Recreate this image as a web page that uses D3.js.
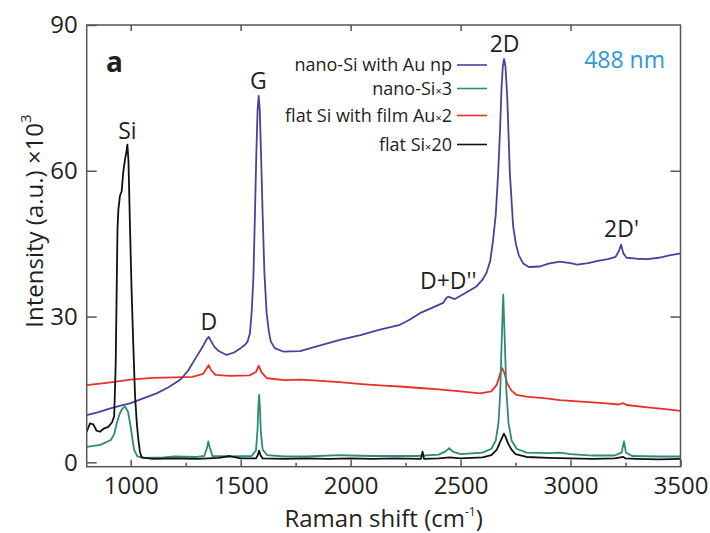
<!DOCTYPE html>
<html>
<head>
<meta charset="utf-8">
<script src="https://cdn.jsdelivr.net/npm/d3@7"></script>
<style>
  body { margin: 0; background: #fff; }
  svg text { font-family: "Open Sans", "Noto Sans", sans-serif; fill: #231f20; }
  .axis path { display: none; }
  .axis line { stroke: #555; stroke-width: 1.5; }
  .axis text { font-size: 24px; }
</style>
</head>
<body>
<div id="chart"></div>
<script>
// Raman spectra, 488 nm excitation (intensity in 10^3 a.u.)

const xTicks = [1000, 1500, 2000, 2500, 3000, 3500];
const xMinorTicks = [1250, 1750, 2250, 2750, 3250];
const yTicks = [0, 30, 60, 90];

// nano-Si with Au np
const nanoSiAu = [
    [800, 9.7], [850, 10.3], [900, 11.0], [950, 11.6], [1000, 12.2], [1060, 13.2], [1118, 14.2],
    [1170, 15.4], [1225, 17.0], [1260, 18.8], [1300, 21.8], [1330, 24.0], [1345, 25.3], [1355, 25.8],
    [1365, 25.0], [1380, 23.8], [1400, 22.9], [1436, 22.1], [1470, 22.6], [1500, 23.5], [1520, 24.2],
    [1532, 24.9], [1542, 26.5], [1550, 30.8], [1558, 38], [1565, 51], [1571, 63], [1577, 72.5],
    [1582, 75.4], [1587, 72.5], [1593, 63], [1600, 51], [1608, 39], [1618, 30.8], [1628, 27],
    [1637, 24.9], [1655, 23.5], [1693, 22.8], [1770, 22.9], [1850, 23.9], [1951, 25.2], [2045, 26.2],
    [2133, 27.3], [2224, 28.3], [2270, 29.4], [2315, 30.7], [2370, 31.8], [2421, 32.8], [2435, 33.8],
    [2444, 34.1], [2474, 33.6], [2520, 34.8], [2572, 36.2], [2600, 37.6], [2618, 39.0], [2635, 41.5],
    [2648, 45.8], [2660, 51], [2671, 59.6], [2680, 69], [2686, 76.8], [2692, 81.5], [2698, 83.0],
    [2704, 81.5], [2712, 75.4], [2724, 59.6], [2739, 48.6], [2752, 44.8], [2765, 42.6], [2785, 40.9],
    [2810, 40.2], [2860, 40.3], [2900, 40.9], [2951, 41.3], [3000, 41.0], [3030, 40.7], [3080, 41.0],
    [3130, 41.5], [3170, 41.8], [3205, 42.3], [3220, 43.5], [3230, 44.8], [3240, 43.0], [3255, 42.1],
    [3300, 41.9], [3350, 41.8], [3400, 42.1], [3450, 42.6], [3500, 43.0]
];

// nano-Si x3
const nanoSi = [
    [800, 3.2], [862, 3.6], [910, 4.6], [925, 5.8], [937, 8.1], [950, 10.0], [960, 10.9], [974, 11.5],
    [988, 10.4], [1000, 7.3], [1008, 4.8], [1016, 2.5], [1031, 1.2], [1060, 0.9], [1150, 1.0],
    [1200, 1.2], [1300, 1.1], [1335, 1.3], [1347, 3.0], [1353, 4.3], [1360, 3.0], [1372, 1.3],
    [1450, 1.2], [1550, 1.3], [1570, 2.5], [1577, 7], [1581, 12], [1584, 13.9], [1588, 11],
    [1592, 6], [1600, 2.6], [1620, 1.5], [1700, 1.2], [1800, 1.2], [1950, 1.5], [2000, 1.4],
    [2100, 1.3], [2200, 1.3], [2300, 1.3], [2400, 1.6], [2430, 2.2], [2448, 2.9], [2465, 2.2],
    [2500, 1.7], [2600, 2.0], [2640, 2.8], [2660, 4.5], [2672, 8], [2680, 14], [2687, 25],
    [2694, 34.5], [2701, 25], [2708, 15], [2718, 8], [2732, 4.5], [2755, 2.8], [2800, 2.0],
    [2900, 1.9], [2950, 2.0], [3000, 1.7], [3100, 1.4], [3200, 1.4], [3232, 2.0], [3243, 4.3],
    [3252, 2.0], [3280, 1.3], [3400, 1.2], [3500, 1.2]
];

// flat Si with film Au x2
const flatSiAu = [
    [800, 15.9], [900, 16.4], [1000, 17.0], [1100, 17.4], [1200, 17.5], [1280, 17.6], [1330, 18.2],
    [1345, 19.3], [1355, 20.0], [1365, 19.0], [1385, 18.0], [1450, 17.8], [1540, 17.9], [1570, 18.6],
    [1582, 19.9], [1595, 18.5], [1620, 17.3], [1700, 16.9], [1770, 17.0], [1850, 16.8], [1950, 16.5],
    [2050, 16.1], [2150, 15.8], [2224, 15.6], [2315, 15.3], [2400, 15.0], [2500, 14.6], [2588, 14.2],
    [2640, 14.6], [2665, 16.0], [2680, 18.2], [2689, 19.4], [2698, 18.5], [2712, 16.3], [2730, 14.8],
    [2754, 13.9], [2800, 13.5], [2900, 13.1], [2951, 12.8], [3050, 12.5], [3150, 12.2], [3220, 11.9],
    [3239, 12.2], [3255, 11.8], [3350, 11.3], [3420, 11.0], [3500, 10.6]
];

// flat Si x20
const flatSi = [
    [800, 6.3], [815, 8.0], [830, 7.8], [845, 6.5], [860, 6.3], [880, 7.0], [898, 7.3], [915, 8.2],
    [925, 9.5], [932, 20.5], [937, 38], [940, 48], [944, 52], [951, 54.8], [959, 55.8], [966, 59.6],
    [974, 62.3], [981, 64], [985, 65.4], [990, 62], [996, 50], [1004, 35.5], [1012, 24], [1020, 13.5],
    [1028, 8], [1035, 4.6], [1042, 2.2], [1050, 1.0], [1100, 0.7], [1200, 0.8], [1300, 0.7],
    [1400, 0.9], [1450, 1.3], [1500, 0.8], [1570, 0.8], [1578, 1.5], [1584, 2.4], [1590, 1.5],
    [1600, 0.8], [1700, 0.7], [1800, 0.8], [1900, 0.7], [2000, 0.8], [2100, 0.7], [2200, 0.8],
    [2320, 0.7], [2327, 2.2], [2334, 0.7], [2400, 0.8], [2450, 1.0], [2500, 0.8], [2600, 1.0],
    [2640, 1.5], [2665, 2.6], [2680, 4.2], [2690, 5.2], [2697, 5.9], [2705, 5.2], [2715, 4.0],
    [2730, 2.7], [2750, 1.7], [2800, 1.1], [2900, 0.9], [3000, 0.8], [3100, 0.7], [3200, 0.8],
    [3240, 1.1], [3250, 0.8], [3300, 0.7], [3400, 0.6], [3500, 0.7]
];

const legendLabels = ["nano-Si with Au np", "nano-Si", "flat Si with film Au", "flat Si"];
const legendFactors = ["", "3", "2", "20"];
const seriesColors = ["#4b4198", "#2f8a78", "#e8302a", "#111111"];

// label anchor = text baseline, in data units
const peakLabels = [
    { text: "Si", x: 985, y: 66.5 },
    { text: "G", x: 1580, y: 76.8 },
    { text: "D", x: 1355, y: 27.3 },
    { text: "D+D''", x: 2444, y: 35.7 },
    { text: "2D", x: 2700, y: 84.4 },
    { text: "2D'", x: 3232, y: 46.3 }
];

const CONFIG = {
    width: 710,
    height: 533,
    plot: { left: 86.7, right: 680.5, top: 25, bottom: 466.7 }
};

const { width, height, plot } = CONFIG;

const svg = d3.select("#chart")
    .append("svg")
    .attr("width", width)
    .attr("height", height);

const x = d3.scaleLinear().domain([800, 3500]).range([plot.left, plot.right]);
const y = d3.scaleLinear().domain([-0.9, 90]).range([plot.bottom, plot.top]);

// spectra
const line = d3.line().x(d => x(d[0])).y(d => y(d[1]));
const drawOrder = [
    { data: flatSiAu, color: seriesColors[2] },
    { data: nanoSiAu, color: seriesColors[0] },
    { data: nanoSi, color: seriesColors[1] },
    { data: flatSi, color: seriesColors[3] }
];
svg.append("g")
    .selectAll("path")
    .data(drawOrder)
    .join("path")
    .attr("d", d => line(d.data))
    .attr("fill", "none")
    .attr("stroke", d => d.color)
    .attr("stroke-width", 1.8)
    .attr("stroke-linejoin", "round");

// axes (ticks point inward)
svg.append("g")
    .attr("class", "axis")
    .attr("transform", `translate(0,${plot.bottom})`)
    .call(d3.axisBottom(x).tickValues(xTicks).tickFormat(d3.format("d"))
        .tickSizeInner(-7).tickSizeOuter(0).tickPadding(10));

svg.append("g")
    .attr("class", "axis")
    .attr("transform", `translate(0,${plot.bottom})`)
    .call(d3.axisBottom(x).tickValues(xMinorTicks).tickSizeInner(-4).tickSizeOuter(0).tickFormat(""));

svg.append("g")
    .attr("class", "axis")
    .attr("transform", `translate(0,${plot.top})`)
    .call(d3.axisTop(x).tickValues(xTicks.slice(0, -1)).tickSizeInner(-6).tickSizeOuter(0).tickFormat(""));

svg.append("g")
    .attr("class", "axis")
    .attr("transform", `translate(${plot.left},0)`)
    .call(d3.axisLeft(y).tickValues(yTicks).tickSizeInner(-10).tickSizeOuter(0).tickPadding(9));

svg.append("g")
    .attr("class", "axis")
    .attr("transform", `translate(${plot.right},0)`)
    .call(d3.axisRight(y).tickValues([30, 60]).tickSizeInner(-10).tickSizeOuter(0).tickFormat(""));

// frame
svg.append("rect")
    .attr("x", plot.left)
    .attr("y", plot.top)
    .attr("width", plot.right - plot.left)
    .attr("height", plot.bottom - plot.top)
    .attr("fill", "none")
    .attr("stroke", "#555")
    .attr("stroke-width", 1.5);

// axis titles
const xTitle = svg.append("text")
    .attr("x", (plot.left + plot.right) / 2)
    .attr("y", 527)
    .attr("text-anchor", "middle")
    .style("font-size", "24px");
xTitle.append("tspan").text("Raman shift (cm");
xTitle.append("tspan").attr("dy", -11).style("font-size", "12px").text("-1");
xTitle.append("tspan").attr("dy", 11).text(")");

const yTitle = svg.append("text")
    .attr("transform", "translate(43,221) rotate(-90)")
    .attr("text-anchor", "middle")
    .style("font-size", "24px");
yTitle.append("tspan").text("Intensity (a.u.) \u00d710");
yTitle.append("tspan").attr("dy", -12).style("font-size", "15px").text("3");

// panel letter and wavelength
svg.append("text")
    .attr("x", 106)
    .attr("y", 72)
    .style("font-size", "28px")
    .style("font-weight", "bold")
    .text("a");

svg.append("text")
    .attr("x", 665)
    .attr("y", 68)
    .attr("text-anchor", "end")
    .style("font-size", "23px")
    .style("fill", "#2b9ad2")
    .text("488 nm");

// peak labels
svg.append("g")
    .selectAll("text")
    .data(peakLabels)
    .join("text")
    .attr("x", d => x(d.x))
    .attr("y", d => y(d.y))
    .attr("text-anchor", "middle")
    .style("font-size", "23px")
    .text(d => d.text);

// legend
const legendRows = [65, 88.5, 115.5, 144.5];
const legend = svg.append("g");
legendLabels.forEach((label, i) => {
    const t = legend.append("text")
        .attr("x", 452)
        .attr("y", legendRows[i] + 6)
        .attr("text-anchor", "end")
        .style("font-size", "18px");
    t.append("tspan").text(label);
    if (legendFactors[i]) {
        t.append("tspan").style("font-size", "11px").text("\u00d7");
        t.append("tspan").text(legendFactors[i]);
    }
    legend.append("line")
        .attr("x1", 457)
        .attr("x2", 487)
        .attr("y1", legendRows[i])
        .attr("y2", legendRows[i])
        .attr("stroke", seriesColors[i])
        .attr("stroke-width", 1.6);
});
</script>
</body>
</html>
